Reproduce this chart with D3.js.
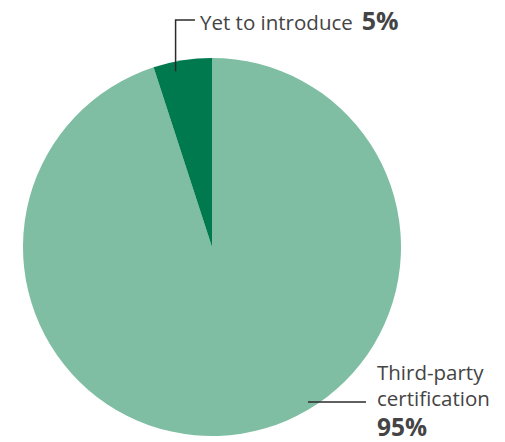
<!DOCTYPE html>
<html>
<head>
<meta charset="utf-8">
<script src="https://cdn.jsdelivr.net/npm/d3@7"></script>
<style>
  html, body { margin: 0; padding: 0; background: #ffffff; }
  svg { display: block; }
  text { font-family: "Open Sans", "Noto Sans", sans-serif; }
</style>
</head>
<body>
<svg id="chart" width="505" height="442"></svg>
<script>
// ---- data ----
const categories = ["Third-party certification", "Yet to introduce"];
const values = [95, 5];
const valueLabels = ["95%", "5%"];
const colors = ["#7fbea3", "#00794f"];

// ---- layout ----
const width = 505, height = 442;
const cx = 212, cy = 247, radius = 189;

const svg = d3.select("#chart");
const g = svg.append("g").attr("transform", `translate(${cx},${cy})`);

const pie = d3.pie().sort(null).value(d => d.value);
const arcs = pie(categories.map((c, i) => ({ name: c, value: values[i], color: colors[i] })));
const arc = d3.arc().innerRadius(0).outerRadius(radius);

g.selectAll("path.slice")
  .data(arcs)
  .join("path")
  .attr("class", "slice")
  .attr("d", arc)
  .attr("fill", d => d.data.color);

// ---- annotations ----
const textColor = "#444444";
const lineColor = "#2b2b2b";
const labelSize = 20.5;

// Yet to introduce (small slice)
const small = arcs[1];
const a0 = small.startAngle + (small.endAngle - small.startAngle) * 0.35;
const pSmall = d3.arc().innerRadius(radius * 0.95).outerRadius(radius * 0.95)
  .centroid({ startAngle: a0, endAngle: a0 });
const topX = cx + pSmall[0];
svg.append("path")
  .attr("d", `M${topX},${cy + pSmall[1]} L${topX},20 L195,20`)
  .attr("fill", "none")
  .attr("stroke", lineColor)
  .attr("stroke-width", 1.5);

const t1 = svg.append("text")
  .attr("x", 200).attr("y", 30)
  .attr("fill", textColor)
  .attr("font-size", labelSize);
t1.append("tspan").text(categories[1]);
t1.append("tspan").attr("dx", 9).attr("font-size", 25).attr("font-weight", "bold").text(valueLabels[1]);

// Third-party certification (big slice)
svg.append("line")
  .attr("x1", 308).attr("x2", 366)
  .attr("y1", 402).attr("y2", 402)
  .attr("stroke", lineColor)
  .attr("stroke-width", 1.5);

const words = categories[0].split(" ");
const t2 = svg.append("text")
  .attr("x", 377).attr("y", 380)
  .attr("fill", textColor).attr("font-size", labelSize);
t2.append("tspan").attr("x", 377).attr("y", 380).text(words[0]);
t2.append("tspan").attr("x", 377).attr("y", 406).text(words[1]);
t2.append("tspan").attr("x", 377).attr("y", 435.5)
  .attr("font-size", 24.5).attr("font-weight", "bold")
  .text(valueLabels[0]);
</script>
</body>
</html>
